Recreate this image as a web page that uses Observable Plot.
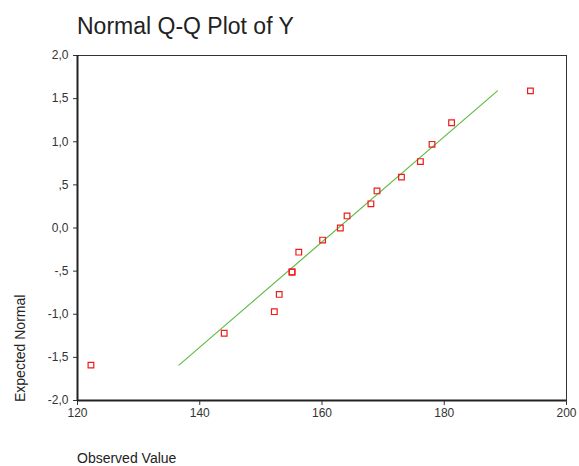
<!DOCTYPE html>
<html><head><meta charset="utf-8">
<script src="https://cdn.jsdelivr.net/npm/d3@7"></script>
<script src="https://cdn.jsdelivr.net/npm/@observablehq/plot@0.6"></script>
<style>body{margin:0;background:#fff;font-family:Arial,"Liberation Sans",sans-serif}</style>
</head><body><div id="chart"></div>
<script>
const observed = [122.2, 144.0, 152.2, 153.0, 155.1, 155.1, 156.2, 160.1, 163.0, 164.1, 168.0, 169.0, 173.0, 176.1, 178.0, 181.2, 194.1];
const expected = [-1.59, -1.22, -0.97, -0.77, -0.51, -0.51, -0.28, -0.14, 0.0, 0.14, 0.28, 0.43, 0.59, 0.77, 0.97, 1.22, 1.59];
const lineX = [136.6, 188.7];
const lineY = [-1.59, 1.59];
const xTicks = [120, 140, 160, 180, 200];
const yTicks = [-2, -1.5, -1, -0.5, 0, 0.5, 1, 1.5, 2];
const yTickLabels = ["-2,0", "-1,5", "-1,0", "-,5", "0,0", ",5", "1,0", "1,5", "2,0"];
const title = "Normal Q-Q Plot of Y";
const xLabel = "Observed Value";
const yLabel = "Expected Normal";

const pts = observed.map((v, i) => ({x: v, y: expected[i]}));
const line = lineX.map((v, i) => ({x: v, y: lineY[i]}));

const plot = Plot.plot({
  width: 579, height: 466,
  marginTop: 55, marginLeft: 77, marginRight: 13, marginBottom: 66,
  style: {fontFamily: "Arial, 'Liberation Sans', sans-serif", fontSize: "12px", color: "#333", background: "#fff"},
  x: {domain: [120, 200], ticks: xTicks, tickSize: 5, tickPadding: 3, label: null, tickFormat: d => String(d)},
  y: {domain: [-2, 2], ticks: yTicks, tickSize: 4, tickPadding: 5, label: null,
      tickFormat: d => yTickLabels[yTicks.indexOf(d)]},
  marks: [
    Plot.frame({stroke: "#333", strokeWidth: 1}),
    Plot.ruleX([120], {stroke: "#222", strokeWidth: 2}),
    Plot.ruleY([-2], {stroke: "#222", strokeWidth: 2}),
    Plot.line(line, {x: "x", y: "y", stroke: "#62bb44", strokeWidth: 1.2}),
    Plot.dot(pts, {x: "x", y: "y", symbol: "square", r: 3.2, stroke: "#ee1c1c", strokeWidth: 1.2, fill: "none"})
  ]
});
const svg = d3.select(plot);
svg.append("text").attr("x", 77).attr("y", 34).attr("text-anchor", "start").attr("font-size", 23).attr("fill", "#222").text(title);
svg.append("text").attr("x", 77).attr("y", 463).attr("text-anchor", "start").attr("font-size", 14).attr("fill", "#222").text(xLabel);
svg.append("text").attr("transform", "translate(25,402) rotate(-90)").attr("text-anchor", "start").attr("font-size", 14).attr("fill", "#222").text(yLabel);
document.getElementById("chart").appendChild(plot);
</script>
</body></html>
